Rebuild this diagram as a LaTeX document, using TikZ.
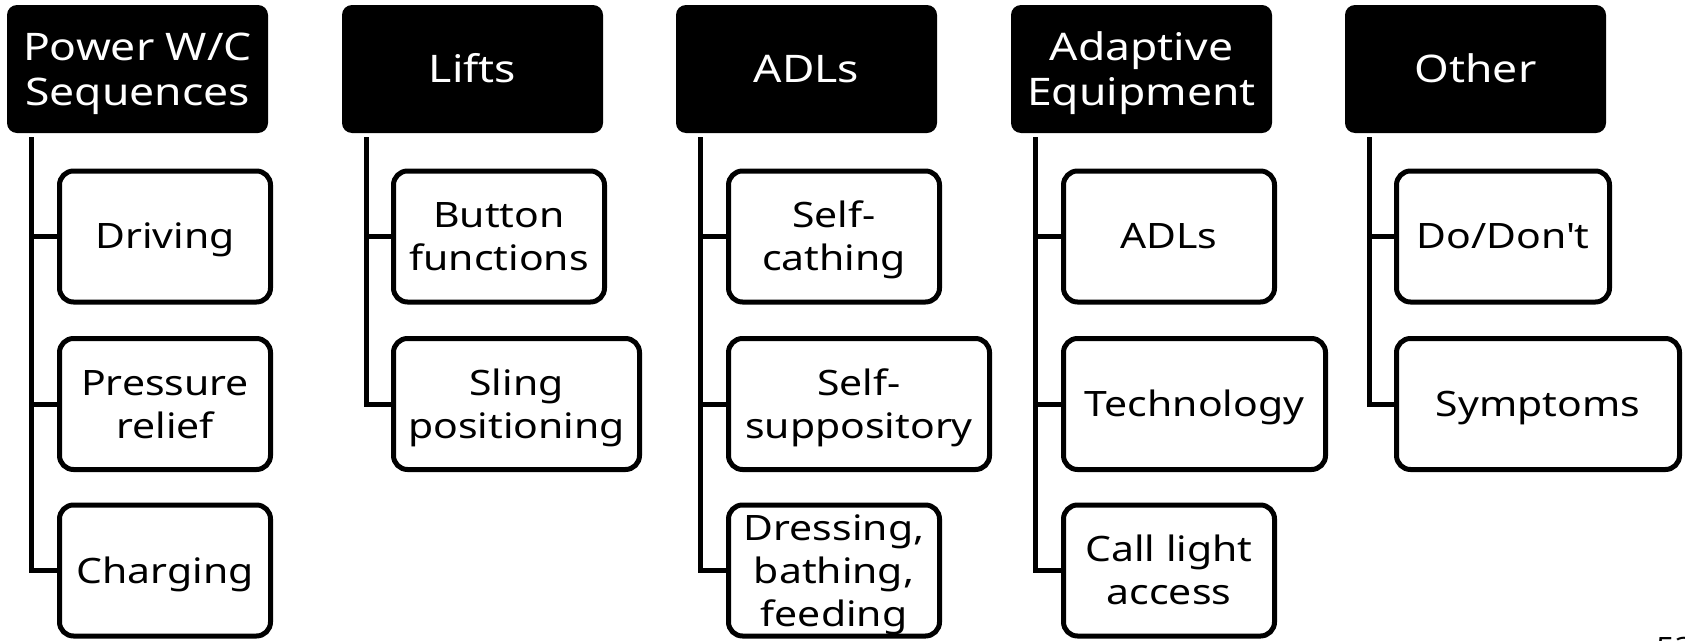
\documentclass[tikz,border=0pt]{standalone}
\usepackage{fontspec}
\setmainfont{Noto Sans}[FakeStretch=1.17]
% one text row whose box runs from its baseline to cap height
\newcommand\Lrow[1]{\raisebox{0pt}[0.714em][0pt]{#1}}
\begin{document}
\begin{tikzpicture}[x=1pt,y=-1pt,
  head/.style={fill=black, text=white, rounded corners=10pt, inner sep=0pt,
    minimum width=261pt, minimum height=128pt, align=center,
    font=\fontsize{38}{45}\selectfont},
  leaf/.style={draw=black, fill=white, line width=5pt, rounded corners=14pt,
    inner sep=0pt, anchor=west, minimum width=211pt, minimum height=131pt,
    align=center, font=\fontsize{35}{43}\selectfont},
  conn/.style={draw=black, line width=5pt}]
\useasboundingbox (0,0) rectangle (1685,640);

% column 1
\node[head] (h1) at (137.5,69) {\Lrow{Power W/C}\\\Lrow{Sequences}};
\node[leaf] (a1) at (57,236.5) {\Lrow{Driving}};
\node[leaf] (a2) at (57,404) {\Lrow{Pressure}\\\Lrow{relief}};
\node[leaf] (a3) at (57,570.5) {\Lrow{Charging}};
\coordinate (t1) at ([xshift=25pt,yshift=-4pt]h1.south west);
\draw[conn] (t1) |- (a3.west);
\draw[conn] (t1 |- a1.west) -- (a1.west);
\draw[conn] (t1 |- a2.west) -- (a2.west);

% column 2
\node[head] (h2) at (472.5,69) {\Lrow{Lifts}};
\node[leaf] (b1) at (391,236.5) {\Lrow{Button}\\\Lrow{functions}};
\node[leaf, minimum width=246pt] (b2) at (391,404) {\Lrow{Sling}\\\Lrow{positioning}};
\coordinate (t2) at ([xshift=25pt,yshift=-4pt]h2.south west);
\draw[conn] (t2) |- (b2.west);
\draw[conn] (t2 |- b1.west) -- (b1.west);

% column 3
\node[head] (h3) at (806.5,69) {\Lrow{ADLs}};
\node[leaf] (c1) at (726,236.5) {\Lrow{Self-}\\\Lrow{cathing}};
\node[leaf, minimum width=261pt] (c2) at (726,404) {\Lrow{Self-}\\\Lrow{suppository}};
\node[leaf] (c3) at (726,570.5) {\Lrow{Dressing,}\\\Lrow{bathing,}\\\Lrow{feeding}};
\coordinate (t3) at ([xshift=25pt,yshift=-4pt]h3.south west);
\draw[conn] (t3) |- (c3.west);
\draw[conn] (t3 |- c1.west) -- (c1.west);
\draw[conn] (t3 |- c2.west) -- (c2.west);

% column 4
\node[head] (h4) at (1141.5,69) {\Lrow{Adaptive}\\\Lrow{Equipment}};
\node[leaf] (d1) at (1061,236.5) {\Lrow{ADLs}};
\node[leaf, minimum width=262pt] (d2) at (1061,404) {\Lrow{Technology}};
\node[leaf] (d3) at (1061,570.5) {\Lrow{Call light}\\\Lrow{access}};
\coordinate (t4) at ([xshift=25pt,yshift=-4pt]h4.south west);
\draw[conn] (t4) |- (d3.west);
\draw[conn] (t4 |- d1.west) -- (d1.west);
\draw[conn] (t4 |- d2.west) -- (d2.west);

% column 5
\node[head] (h5) at (1475.5,69) {\Lrow{Other}};
\node[leaf, minimum width=213pt] (e1) at (1394,236.5) {\Lrow{Do/Don\textquotesingle t}};
\node[leaf, minimum width=283pt] (e2) at (1394,404) {\Lrow{Symptoms}};
\coordinate (t5) at ([xshift=25pt,yshift=-4pt]h5.south west);
\draw[conn] (t5) |- (e2.west);
\draw[conn] (t5 |- e1.west) -- (e1.west);

% page number
\node[anchor=north west, inner sep=0pt, font=\fontsize{28}{34}\selectfont\bfseries] (pg) at (1656,637) {53};
\end{tikzpicture}
\end{document}
